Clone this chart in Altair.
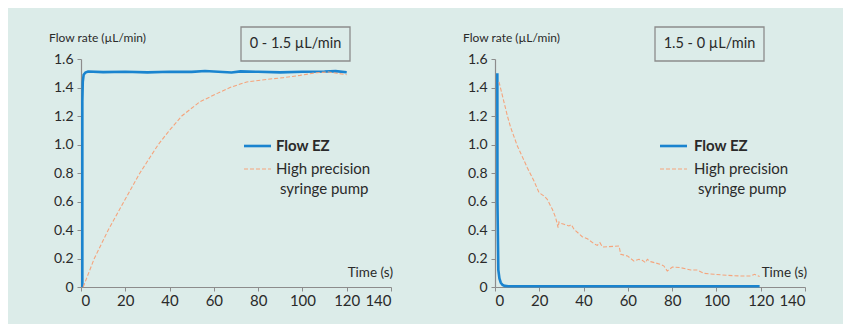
import altair as alt
import pandas as pd

# ---------------- data ----------------
x_ticks = [0, 20, 40, 60, 80, 100, 120, 140]
y_ticks = [0, 0.2, 0.4, 0.6, 0.8, 1.0, 1.2, 1.4, 1.6]

# Panel 1: 0 -> 1.5 uL/min
t_ez_up = [0.6, 0.6, 0.8, 1.2, 2.0, 3.2, 10, 20, 30, 40, 50, 56, 62, 68, 72, 80, 90, 100, 110, 115, 120]
f_ez_up = [0.0, 1.30, 1.44, 1.49, 1.505, 1.512, 1.508, 1.51, 1.506, 1.51, 1.51, 1.516, 1.51, 1.505,
           1.513, 1.51, 1.506, 1.51, 1.512, 1.515, 1.507]
t_sp_up = [1.0, 6.0, 12.3, 19.4, 26.6, 34.9, 40, 45.5, 53.7, 61.3, 67.3, 74.8, 83.8, 91.4, 98.9,
           106.4, 111.7, 115.5, 120]
f_sp_up = [0.0, 0.2, 0.4, 0.6, 0.8, 1.0, 1.1, 1.2, 1.3, 1.357, 1.4, 1.439, 1.457, 1.469, 1.485,
           1.504, 1.509, 1.50, 1.49]

# Panel 2: 1.5 -> 0 uL/min
t_ez_dn = [1.05, 1.1, 1.5, 2.0, 2.6, 3.4, 4.4, 6, 20, 40, 60, 80, 100, 119.5]
f_ez_dn = [1.5, 0.6, 0.12, 0.06, 0.03, 0.015, 0.008, 0.005, 0.005, 0.005, 0.005, 0.005, 0.005, 0.005]
t_sp_dn = [1.8, 3.7, 5.6, 7.1, 10.1, 14.6, 17.6, 19.9, 22.1, 23.6, 25.9, 27.4, 28.5, 28.9, 29.7, 31.2,
           33.4, 34.5, 35.7, 39.4, 41.7, 44.7, 46.2, 47.4, 48.5, 51.5, 56.0, 56.8, 59.8, 62.8, 65.0,
           66.5, 68.0, 68.8, 70.3, 74.8, 76.3, 77.8, 80.1, 83.8, 88.4, 91.4, 94.4, 98.9, 104.9,
           110.9, 115.5, 117.3, 119.5]
f_sp_dn = [1.44, 1.32, 1.20, 1.118, 0.99, 0.837, 0.744, 0.662, 0.639, 0.615, 0.545, 0.487, 0.416,
           0.456, 0.447, 0.44, 0.428, 0.437, 0.405, 0.353, 0.339, 0.304, 0.292, 0.311, 0.281, 0.283,
           0.288, 0.229, 0.218, 0.182, 0.194, 0.187, 0.171, 0.194, 0.178, 0.159, 0.147, 0.112, 0.14,
           0.136, 0.119, 0.119, 0.096, 0.089, 0.082, 0.077, 0.077, 0.089, 0.073]

series_names = ["Flow EZ", "High precision", "syringe pump"]
y_title = "Flow rate (µL/min)"
x_title = "Time (s)"
box_labels = ["0 - 1.5 µL/min", "1.5 - 0 µL/min"]

# ---------------- style ----------------
BG = "#dcece9"
BLUE = "#1a84cf"
ORANGE = "#f5a47c"
GRAY = "#8c8c8c"
TXT = "#2a2a2a"
FONT = "Lato"
W, H = 310, 228


def panel(t_ez, f_ez, t_sp, f_sp, box_label, leg_x, txt_x):
    ez = pd.DataFrame({"t": t_ez, "f": f_ez})
    sp = pd.DataFrame({"t": t_sp, "f": f_sp})
    x = alt.X("t:Q", scale=alt.Scale(domain=[0, 140], nice=False),
              axis=alt.Axis(values=x_ticks, title=None, labelFontSize=15, labelPadding=2))
    y = alt.Y("f:Q", scale=alt.Scale(domain=[0, 1.6], nice=False),
              axis=alt.Axis(values=y_ticks, title=None, labelFontSize=14, labelPadding=4,
                            labelExpr="datum.value == 0 ? '0' : format(datum.value, '.1f')"))
    ez_line = alt.Chart(ez).mark_line(color=BLUE, strokeWidth=2.6).encode(x=x, y=y)
    sp_line = alt.Chart(sp).mark_line(color=ORANGE, strokeWidth=1.1, strokeDash=[4, 2]).encode(x=x, y=y)

    one = alt.Chart(pd.DataFrame({"k": [0]}))
    box = one.mark_rect(fill=BG, stroke=GRAY, strokeWidth=1.3).encode(
        x=alt.value(160), x2=alt.value(269), y=alt.value(-32), y2=alt.value(2))
    box_txt = one.mark_text(text=box_label, font=FONT, fontSize=14.5, color=TXT,
                            align="center", baseline="middle").encode(
        x=alt.value(214.5), y=alt.value(-15))
    ytitle = one.mark_text(text=y_title, font=FONT, fontSize=12, color=TXT,
                           align="left", baseline="middle").encode(
        x=alt.value(-32), y=alt.value(-21))
    xtitle = one.mark_text(text=x_title, font=FONT, fontSize=13.5, color=TXT,
                           align="right", baseline="middle").encode(
        x=alt.value(312), y=alt.value(214))
    leg_ez = one.mark_rule(color=BLUE, strokeWidth=2.6).encode(
        x=alt.value(leg_x), x2=alt.value(leg_x + 27), y=alt.value(87))
    leg_sp = one.mark_rule(color=ORANGE, strokeWidth=1.1, strokeDash=[4, 2]).encode(
        x=alt.value(leg_x), x2=alt.value(leg_x + 27), y=alt.value(110))
    t1 = one.mark_text(text=series_names[0], font=FONT, fontSize=15, fontWeight="bold", color=TXT,
                       align="left", baseline="middle").encode(x=alt.value(txt_x), y=alt.value(87))
    t2 = one.mark_text(text=series_names[1], font=FONT, fontSize=15, color=TXT,
                       align="left", baseline="middle").encode(x=alt.value(txt_x), y=alt.value(110))
    t3 = one.mark_text(text=series_names[2], font=FONT, fontSize=15, color=TXT,
                       align="left", baseline="middle").encode(x=alt.value(txt_x + 4), y=alt.value(130))
    return alt.layer(ez_line, sp_line, box, box_txt, ytitle, xtitle, leg_ez, leg_sp, t1, t2, t3).properties(
        width=W, height=H)


left = panel(t_ez_up, f_ez_up, t_sp_up, f_sp_up, box_labels[0], 163, 195)
right = panel(t_ez_dn, f_ez_dn, t_sp_dn, f_sp_dn, box_labels[1], 165, 199)

chart = alt.hconcat(left, right, spacing=104, bounds="flush").properties(
    background=BG,
    padding={"left": 41, "top": 18, "right": 36, "bottom": 16},
).configure_view(strokeWidth=0).configure_axis(
    grid=False, domainColor=GRAY, tickColor=GRAY, tickSize=4, domainWidth=1.2,
    labelFont=FONT, labelColor=TXT,
)

chart.save("out.html", embed_options={"renderer": "svg", "actions": False})
